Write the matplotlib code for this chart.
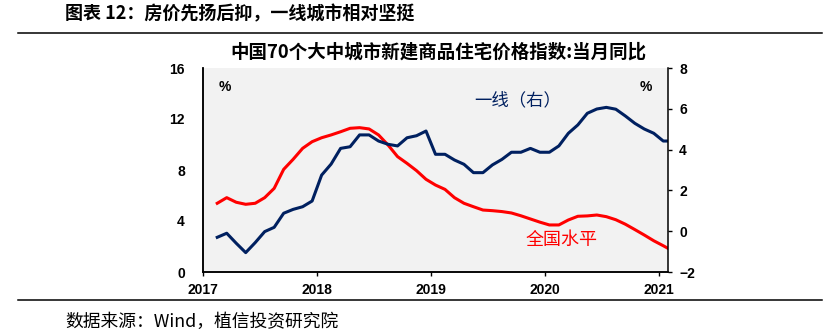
import numpy as np
import pandas as pd
import matplotlib
matplotlib.use("Agg")
import matplotlib.pyplot as plt
from matplotlib.lines import Line2D

plt.rcParams['font.family'] = ['Noto Sans CJK SC', 'DejaVu Sans']
plt.rcParams['axes.unicode_minus'] = True

# 月份：2017-02 至 2021-02
months = pd.period_range("2017-02", "2021-02", freq="M")

# 全国水平（左轴，%）
national = [5.39, 5.83, 5.47, 5.31, 5.39, 5.83, 6.56, 8.05, 8.84, 9.70, 10.22,
            10.53, 10.75, 11.00, 11.27, 11.32, 11.22, 10.75, 9.96, 9.05, 8.52, 7.95, 7.27,
            6.82, 6.48, 5.83, 5.39, 5.12, 4.86, 4.81, 4.74, 4.63, 4.41, 4.16, 3.91,
            3.69, 3.69, 4.08, 4.37, 4.40, 4.47, 4.34, 4.10, 3.75, 3.33, 2.90, 2.45,
            2.06, 1.65]

# 一线城市（右轴，%）
tier1 = [-0.30, -0.10, -0.59, -1.05, -0.56, -0.02, 0.19, 0.88, 1.07, 1.20, 1.48,
         2.75, 3.29, 4.06, 4.14, 4.72, 4.72, 4.42, 4.26, 4.18, 4.58, 4.68, 4.91,
         3.77, 3.77, 3.49, 3.28, 2.87, 2.87, 3.25, 3.52, 3.87, 3.87, 4.06, 3.87,
         3.87, 4.18, 4.80, 5.21, 5.78, 5.99, 6.07, 5.98, 5.65, 5.29, 5.01, 4.80,
         4.42, 4.42]

years = [2017, 2018, 2019, 2020, 2021]
left_ticks = [0, 4, 8, 12, 16]
right_ticks = [-2, 0, 2, 4, 6, 8]

x = np.array([p.year + (p.month - 0.5) / 12 for p in months])

W, H = 837, 335
fig = plt.figure(figsize=(W / 100, H / 100), dpi=100)
ax = fig.add_axes([203 / W, 1 - 272 / H, 465 / W, 204 / H])
ax.set_facecolor('#F2F2F2')
ax2 = ax.twinx()

ax.plot(x, national, color='#FF0000', lw=2.2, solid_joinstyle='round')
ax2.plot(x, tier1, color='#002060', lw=2.2, solid_joinstyle='round')

ax.set_xlim(2017, 2021 + 1 / 12)
ax.set_ylim(0, 16)
ax2.set_ylim(-2, 8)
ax.set_xticks(years)
ax.set_xticklabels([str(y) for y in years])
ax.set_yticks(left_ticks)
ax2.set_yticks(right_ticks)

tickfont = dict(family='Liberation Sans', weight='bold', size=10)
for lab in ax.get_xticklabels() + ax.get_yticklabels() + ax2.get_yticklabels():
    lab.set_fontproperties(matplotlib.font_manager.FontProperties(**tickfont))

ax.tick_params(axis='y', length=0, pad=13)
ax.tick_params(axis='x', direction='out', length=3, width=1, pad=5)
ax2.tick_params(axis='y', direction='out', length=3, width=1, pad=5)

for a in (ax, ax2):
    a.spines['top'].set_visible(False)
    for s in ('left', 'right', 'bottom'):
        a.spines[s].set_linewidth(1.1)
ax.spines['right'].set_visible(False)

# 注释
ax.text(0.047, 0.905, '%', transform=ax.transAxes, ha='center', va='center',
        fontsize=10, fontweight='bold', family='Liberation Sans')
ax.text(0.952, 0.905, '%', transform=ax.transAxes, ha='center', va='center',
        fontsize=10, fontweight='bold', family='Liberation Sans')
ax.text(0.677, 0.843, '一线（右）', transform=ax.transAxes, ha='center', va='center',
        fontsize=12.5, color='#002060')
ax.text(0.77, 0.157, '全国水平', transform=ax.transAxes, ha='center', va='center',
        fontsize=13, color='#FF0000')

# 标题与来源
fig.text(438 / W, 1 - 52 / H, '中国70个大中城市新建商品住宅价格指数:当月同比',
         ha='center', va='center', fontsize=13.3, fontweight='bold')
fig.text(65 / W, 1 - 14 / H, '图表 12：房价先扬后抑，一线城市相对坚挺',
         ha='left', va='center', fontsize=13, fontweight='bold')
fig.text(65 / W, 1 - 322 / H, '数据来源：Wind，植信投资研究院',
         ha='left', va='center', fontsize=12.8)

fig.add_artist(Line2D([18 / W, 822 / W], [1 - 33 / H] * 2, color='black', lw=1.1))
fig.add_artist(Line2D([18 / W, 822 / W], [1 - 300 / H] * 2, color='black', lw=1.1))

fig.savefig('out.png', dpi=100)
